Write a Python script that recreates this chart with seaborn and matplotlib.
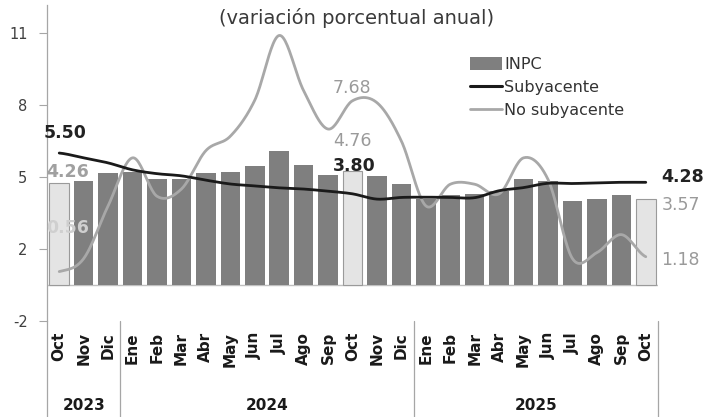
import numpy as np
import pandas as pd
import matplotlib
matplotlib.use("Agg")
import matplotlib.pyplot as plt
from matplotlib.patches import Patch
from matplotlib.lines import Line2D
import matplotlib.transforms as mtransforms
import seaborn as sns

# ---------------- data ----------------
months = ["Oct", "Nov", "Dic", "Ene", "Feb", "Mar", "Abr", "May", "Jun", "Jul", "Ago", "Sep",
          "Oct", "Nov", "Dic", "Ene", "Feb", "Mar", "Abr", "May", "Jun", "Jul", "Ago", "Sep", "Oct"]
years = ["2023", "2024", "2025"]
year_sizes = [3, 12, 10]
inpc = [4.26, 4.32, 4.66, 4.70, 4.40, 4.42, 4.65, 4.69, 4.98, 5.57, 4.99, 4.58,
        4.76, 4.55, 4.21, 3.59, 3.77, 3.80, 3.93, 4.42, 4.32, 3.51, 3.57, 3.76, 3.57]
subyacente = [5.50, 5.30, 5.09, 4.80, 4.64, 4.55, 4.37, 4.21, 4.13, 4.05, 4.00, 3.91,
              3.80, 3.58, 3.65, 3.66, 3.65, 3.64, 3.93, 4.06, 4.24, 4.23, 4.26, 4.28, 4.28]
no_subyacente = [0.56, 1.10, 3.30, 5.30, 3.70, 4.00, 5.60, 6.20, 7.70, 10.40, 8.10, 6.50,
                 7.68, 7.60, 6.00, 3.30, 4.20, 4.20, 3.80, 5.30, 4.40, 1.10, 1.35, 2.10, 1.18]
highlight = [i in (0, 12, 24) for i in range(len(months))]
ytick_vals = [-1.5, 1.5, 4.5, 7.5, 10.5]
ytick_labels = ["-2", "2", "5", "8", "11"]

# ---------------- style ----------------
sns.set_theme(style="white")
plt.rcParams["font.family"] = ["DejaVu Sans"]

DARK_BAR = "#7f7f7f"
LIGHT_BAR = "#e4e4e4"
SUB_C = "#1a1a1a"
NOSUB_C = "#a8a8a8"
AX_C = "#a6a6a6"

W, H = 716, 417
fig = plt.figure(figsize=(W / 100, H / 100), dpi=100)
ax_left, ax_right = 47, 658
ax_top, ax_bot = 5, 321
ax = fig.add_axes([ax_left / W, 1 - ax_bot / H, (ax_right - ax_left) / W, (ax_bot - ax_top) / H])

df = pd.DataFrame({"idx": np.arange(len(months)), "inpc": inpc, "hl": highlight})
sns.barplot(data=df, x="idx", y="inpc", hue="hl", palette={True: LIGHT_BAR, False: DARK_BAR},
            dodge=False, legend=False, width=0.8, ax=ax, zorder=2, saturation=1)
for p in ax.patches:
    fc = matplotlib.colors.to_hex(p.get_facecolor())
    if fc.lower() == LIGHT_BAR:
        p.set_edgecolor("#9a9a9a")
        p.set_linewidth(0.8)
    else:
        p.set_linewidth(0)


def catmull_rom(vals, n=24):
    v = list(vals)
    xs, ys = [], []
    m = len(v)
    for i in range(m - 1):
        p0 = v[i - 1] if i > 0 else v[i]
        p1, p2 = v[i], v[i + 1]
        p3 = v[i + 2] if i + 2 < m else v[i + 1]
        t = np.linspace(0, 1, n, endpoint=(i == m - 2))
        y = 0.5 * ((2 * p1) + (-p0 + p2) * t + (2 * p0 - 5 * p1 + 4 * p2 - p3) * t ** 2
                   + (-p0 + 3 * p1 - 3 * p2 + p3) * t ** 3)
        xs.extend(i + t)
        ys.extend(y)
    return np.array(xs), np.array(ys)


xn, yn = catmull_rom(no_subyacente)
sns.lineplot(x=xn, y=yn, color=NOSUB_C, lw=2.0, sort=False, estimator=None, ax=ax, zorder=3)
xs_, ys_ = catmull_rom(subyacente)
sns.lineplot(x=xs_, y=ys_, color=SUB_C, lw=2.0, sort=False, estimator=None, ax=ax, zorder=4)

# zero line
ax.axhline(0, color="#c0c0c0", lw=1.0, zorder=1.5)

ax.set_xlim(-0.5, len(months) - 0.5)
ax.set_ylim(-1.5, 11.67)
ax.set_yticks(ytick_vals)
ax.set_yticklabels(ytick_labels, fontsize=10.5, color="#404040")
ax.tick_params(axis="y", direction="out", length=6, width=0.8, color=AX_C, pad=8, left=True)
ax.set_xticks(range(len(months)))
ax.set_xticklabels(months, rotation=90, fontsize=11, fontweight="bold", color="#1a1a1a", va="top")
ax.tick_params(axis="x", length=0, pad=8)
ax.set_xlabel("")
ax.set_ylabel("")
for s in ["top", "right", "bottom"]:
    ax.spines[s].set_visible(False)
ax.spines["left"].set_color(AX_C)
ax.spines["left"].set_linewidth(0.9)

# group separators and year labels
trans = mtransforms.blended_transform_factory(ax.transData, fig.transFigure)
bounds = [-0.5]
for s in year_sizes:
    bounds.append(bounds[-1] + s)
for b in bounds:
    fig.add_artist(Line2D([b, b], [0, 1 - ax_bot / H], transform=trans, color=AX_C, lw=0.9))
for i, yl in enumerate(years):
    c = (bounds[i] + bounds[i + 1]) / 2
    fig.text(c, 1 - 405 / H, yl, transform=trans, ha="center", va="center",
             fontsize=11, fontweight="bold", color="#1a1a1a")

# title
fig.text(357 / W, 1 - 18 / H, "(variación porcentual anual)", ha="center", va="center",
         fontsize=14, color="#3a3a3a")

# annotations
lab = dict(fontsize=12.5, va="center", ha="left", zorder=6)
ax.text(-0.62, 6.33, "5.50", color="#222222", fontweight="bold", **lab)
ax.text(-0.55, 4.70, "4.26", color="#a0a0a0", fontweight="bold", **lab)
ax.text(-0.55, 2.37, "0.56", color="#cfcfcf", fontweight="bold", **lab)
ax.text(11.2, 8.2, "7.68", color="#9a9a9a", **lab)
ax.text(11.2, 6.0, "4.76", color="#9a9a9a", **lab)
ax.text(11.2, 4.96, "3.80", color="#222222", fontweight="bold", **lab)
ax.text(24.64, 4.5, "4.28", color="#222222", fontweight="bold", clip_on=False, **lab)
ax.text(24.64, 3.33, "3.57", color="#9a9a9a", clip_on=False, **lab)
ax.text(24.64, 1.04, "1.18", color="#9a9a9a", clip_on=False, **lab)

# legend
handles = [Patch(facecolor=DARK_BAR, edgecolor="none"),
           Line2D([0], [0], color=SUB_C, lw=2.2),
           Line2D([0], [0], color=NOSUB_C, lw=2.0)]
fig.legend(handles, ["INPC", "Subyacente", "No subyacente"], loc="upper left",
           bbox_to_anchor=(470 / W, 1 - 57 / H), frameon=False, fontsize=11.5,
           handlelength=2.0, handleheight=0.8, handletextpad=0.15, labelspacing=0.5,
           borderpad=0, borderaxespad=0, labelcolor="#333333")

fig.savefig("out.png", dpi=100)
